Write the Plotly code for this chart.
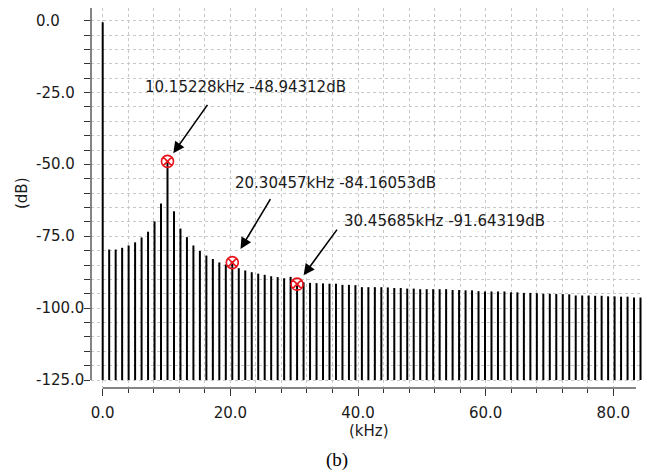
import plotly.graph_objects as go

# ---------------- data ----------------
harmonic_step_khz = 1.0152284          # spacing of spectral lines (kHz)
harmonic_index = list(range(84))
level_db = [
    -0.5, -79.6, -79.6, -79.0, -78.2, -77.1, -75.4, -73.4, -69.8, -63.6,
    -48.94312, -66.3, -72.3, -75.3, -78.2, -80.1, -81.7, -82.9, -84.1, -84.8,
    -84.16053, -86.1, -86.9, -87.5, -88.0, -88.4, -88.9, -89.2, -89.6, -89.1,
    -91.64319, -91.0, -91.2, -91.3, -91.4, -91.5, -91.5, -91.9, -91.9, -92.0,
    -92.7, -92.7, -92.7, -92.7, -92.8, -93.0, -93.0, -93.2, -93.2, -93.4,
    -93.4, -93.4, -93.4, -93.4, -93.7, -93.7, -93.8, -93.8, -94.1, -94.2,
    -94.2, -94.2, -94.2, -94.5, -94.5, -94.7, -94.7, -94.8, -95.0, -95.0,
    -95.1, -95.1, -95.2, -95.6, -95.6, -95.6, -95.7, -95.7, -95.9, -95.9,
    -96.0, -96.0, -96.3, -96.3,
]
floor_db = -125.0

marker_khz = [10.15228, 20.30457, 30.45685]
marker_db = [-48.94312, -84.16053, -91.64319]

x_major_ticks = [0, 20, 40, 60, 80]
x_minor_ticks = list(range(0, 81, 4))
y_major_ticks = [0, -25, -50, -75, -100, -125]
y_minor_ticks = list(range(-125, 1, 5))

# ---------------- geometry ----------------
X_RANGE = [-1.833, 84.497]
Y_RANGE = [-127.78, 4.42]
FONT = "DejaVu Sans, Verdana, sans-serif"
TXT = "#1a1a1a"

freqs = [k * harmonic_step_khz for k in harmonic_index]

stem_x, stem_y = [], []
for f, v in zip(freqs, level_db):
    stem_x += [f, f, None]
    stem_y += [floor_db, v, None]

fig = go.Figure()
fig.add_trace(go.Scatter(x=stem_x, y=stem_y, mode="lines",
                         line=dict(color="black", width=2),
                         hoverinfo="skip", showlegend=False))
fig.add_trace(go.Scatter(x=marker_khz, y=marker_db, mode="markers",
                         marker=dict(symbol="circle-x-open", size=12,
                                     color="#e8141c", line=dict(width=1.6)),
                         showlegend=False))

# arrows (tail offsets in px) and label offsets relative to markers
arrow_ax = [41, 39, 41]
arrow_ay = [-58, -65, -56]
arrow_standoff = [10, 16, 11]
label_dx = [-25, 1, 45]
label_dy = [74, 80, 63]
for f, d, ax, ay, so, dx, dy in zip(marker_khz, marker_db, arrow_ax, arrow_ay,
                                    arrow_standoff, label_dx, label_dy):
    fig.add_annotation(x=f, y=d, xref="x", yref="y", text="", showarrow=True,
                       ax=ax, ay=ay, arrowhead=2, arrowsize=1.4, arrowwidth=1.6,
                       arrowcolor="black", standoff=so)
    fig.add_annotation(x=f, y=d, xref="x", yref="y", showarrow=False,
                       text=f"{f:.5f}kHz {d:.5f}dB", xanchor="left",
                       yanchor="middle", xshift=dx, yshift=dy,
                       font=dict(family=FONT, size=15, color=TXT))

# y tick labels (left aligned)
for v in y_major_ticks:
    fig.add_annotation(x=-0.1035, y=v, xref="paper", yref="y", showarrow=False,
                       text=f"{v:.1f}", xanchor="left", yanchor="middle",
                       font=dict(family=FONT, size=15, color=TXT))

fig.add_annotation(x=-0.1252, y=0.5132, xref="paper", yref="paper",
                   showarrow=False, text="(dB)", textangle=-90,
                   xanchor="center", yanchor="middle",
                   font=dict(family=FONT, size=15, color=TXT))
fig.add_annotation(x=0.5054, y=-0.113, xref="paper", yref="paper",
                   showarrow=False, text="(kHz)", xanchor="center",
                   yanchor="middle", font=dict(family=FONT, size=15, color=TXT))
fig.add_annotation(x=0.4465, y=-0.1895, xref="paper", yref="paper",
                   showarrow=False, text="(b)", xanchor="center",
                   yanchor="middle",
                   font=dict(family="Liberation Serif, Times New Roman, serif",
                             size=19, color="black"))

# masks so the grid only covers the data rectangle
mask = dict(type="rect", fillcolor="white", line=dict(width=0), layer="between")
fig.add_shape(**mask, xref="x", yref="paper", x0=X_RANGE[0], x1=-0.2, y0=0, y1=1)
fig.add_shape(**mask, xref="x", yref="paper", x0=83.56, x1=X_RANGE[1], y0=0, y1=1)
fig.add_shape(**mask, xref="paper", yref="y", x0=0, x1=1, y0=Y_RANGE[0], y1=-125.25)

# offset axis lines
fig.add_shape(type="line", xref="paper", yref="y", x0=0, x1=0,
              y0=floor_db, y1=Y_RANGE[1], line=dict(color="#333333", width=1.2))
fig.add_shape(type="line", xref="x", yref="paper", x0=0, x1=83.56,
              y0=0, y1=0, line=dict(color="#858585", width=2.2))

# figure is placed 8px in by the page's body margin, so it is 8px smaller
fig.update_layout(
    width=644, height=465,
    margin=dict(l=83, r=10, t=0, b=85),
    paper_bgcolor="white", plot_bgcolor="white",
    font=dict(family=FONT, size=15, color=TXT),
    xaxis=dict(range=X_RANGE, showline=False, zeroline=False,
               tickmode="array", tickvals=x_major_ticks,
               ticktext=[f"{v:.1f}" for v in x_major_ticks],
               ticks="outside", ticklen=7, tickwidth=1.2, tickcolor="#333333",
               ticklabelstandoff=4,
               showgrid=True, gridcolor="#c8c8c8", griddash="dot", gridwidth=1,
               minor=dict(tickmode="array", tickvals=x_minor_ticks,
                          ticks="outside", ticklen=4, tickwidth=1.2,
                          tickcolor="#333333", showgrid=True,
                          gridcolor="#c8c8c8", griddash="dot", gridwidth=1),
               tickfont=dict(family=FONT, size=15, color=TXT)),
    yaxis=dict(range=Y_RANGE, showline=False, zeroline=False,
               tickmode="array", tickvals=y_major_ticks, showticklabels=False,
               ticks="outside", ticklen=6, tickwidth=1.2, tickcolor="#333333",
               showgrid=True, gridcolor="#c8c8c8", griddash="dot", gridwidth=1,
               minor=dict(tickmode="array", tickvals=y_minor_ticks,
                          ticks="outside", ticklen=6, tickwidth=1.2,
                          tickcolor="#333333", showgrid=True,
                          gridcolor="#c8c8c8", griddash="dot", gridwidth=1)),
)

fig.write_html("out.html")
